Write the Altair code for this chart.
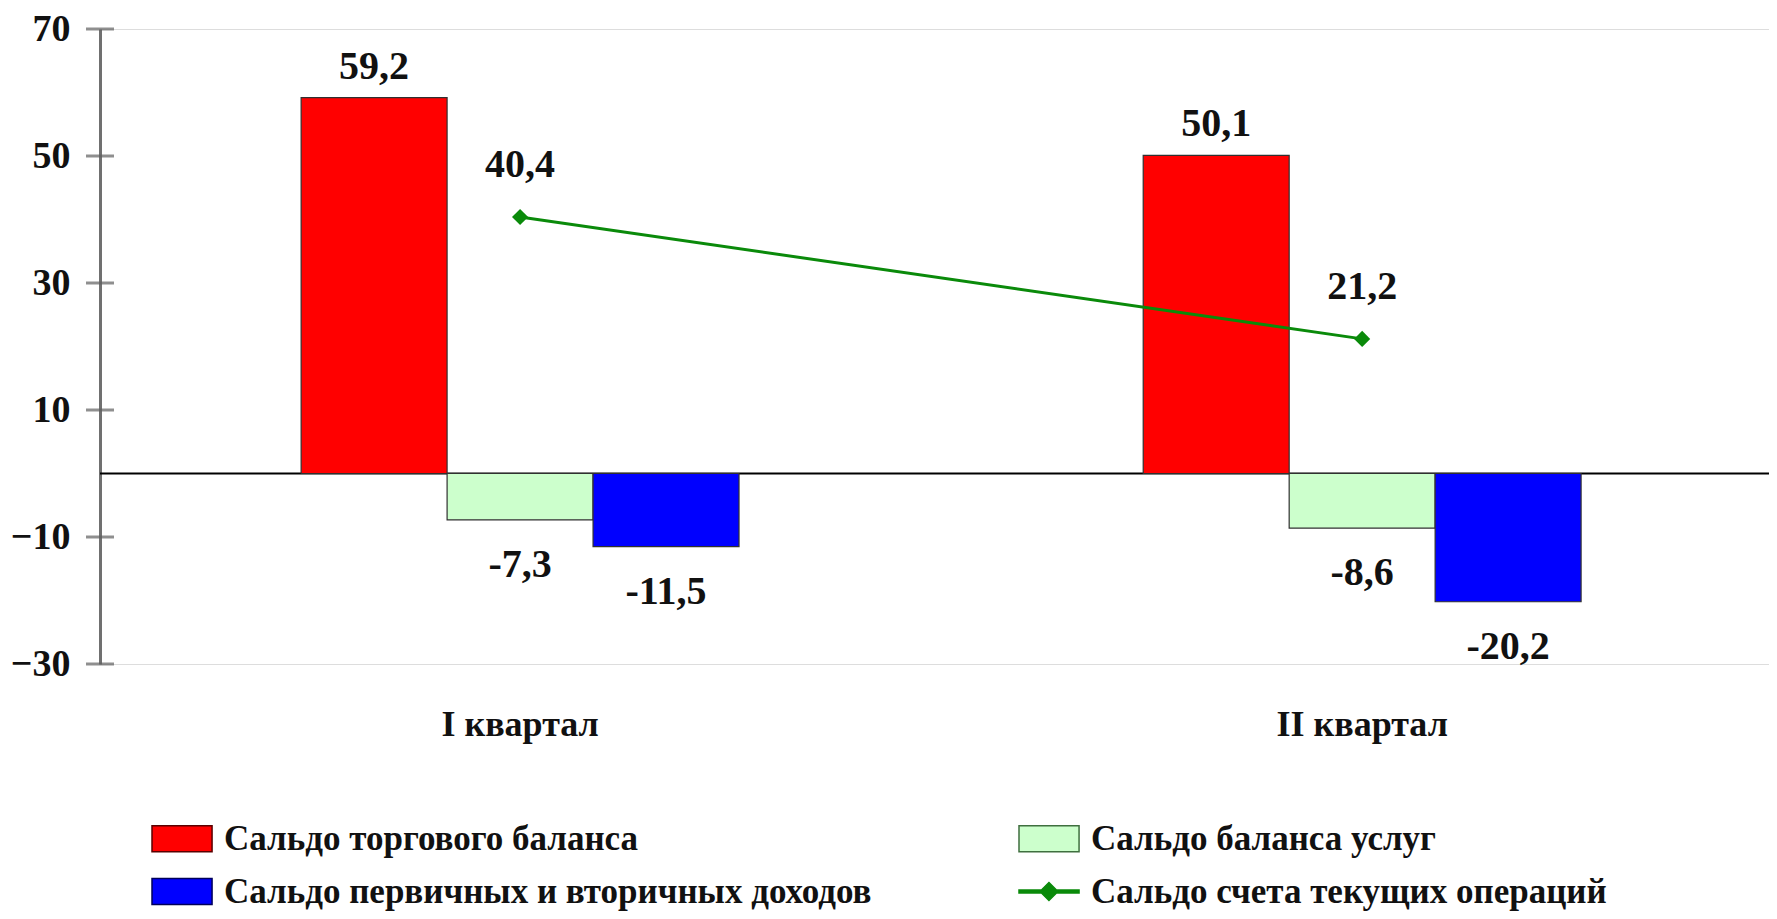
import altair as alt
import pandas as pd

FONT = "Liberation Serif"

quarters = ["I квартал", "II квартал"]
series_bars = ["Сальдо торгового баланса", "Сальдо баланса услуг",
               "Сальдо первичных и вторичных доходов"]
series_line = "Сальдо счета текущих операций"
trade = [59.2, 50.1]
services = [-7.3, -8.6]
income = [-11.5, -20.2]
current = [40.4, 21.2]
y_ticks = [-30, -10, 10, 30, 50, 70]

# legend order (grid is filled column by column)
legend_order = [series_bars[0], series_bars[2], series_bars[1], series_line]
fill_colors = ["#FF0000", "#0000FF", "#CCFFCC", "#0A8A0A"]
stroke_colors = ["#5a0000", "#00005a", "#3f6f3f", "#0A8A0A"]
rect_path = "M-1.25,-0.93H3.04V0.93H-1.25Z"
line_path = "M-1.25,-0.11H3.04V0.11H-1.25Z M0.89,-0.64L1.53,0L0.89,0.64L0.25,0Z"


def fmt(v):
    return f"{v:.1f}".replace(".", ",")


rows = []
for i, q in enumerate(quarters):
    for s, vals in zip(series_bars, [trade, services, income]):
        rows.append({"q": q, "series": s, "value": vals[i], "label": fmt(vals[i])})
bars_df = pd.DataFrame(rows)
line_df = pd.DataFrame({"q": quarters, "series": series_line, "value": current,
                        "label": [fmt(v) for v in current]})
ticks_df = pd.DataFrame({"value": y_ticks})
zero_df = pd.DataFrame({"value": [0]})
legend_df = pd.DataFrame({"series": legend_order})

legend = alt.Legend(title=None, orient="none", legendX=52, legendY=792, columns=2,
                    columnPadding=144, rowPadding=17, labelFont=FONT, labelFontSize=35,
                    labelFontWeight="bold", labelColor="#111111", labelOffset=37,
                    symbolSize=784, symbolStrokeWidth=1.5, labelLimit=1200, padding=0)

x_enc = alt.X("q:N", sort=quarters,
              scale=alt.Scale(domain=quarters, paddingInner=0.48, paddingOuter=0.231, align=0.517),
              axis=alt.Axis(title=None, domain=False, ticks=False, labelAngle=0,
                            labelFont=FONT, labelFontSize=36, labelFontWeight="bold",
                            labelColor="#111111", labelPadding=43))
y_enc = alt.Y("value:Q", scale=alt.Scale(domain=[-30, 70], nice=False, zero=False),
              axis=alt.Axis(values=y_ticks, title=None, grid=False, ticks=False,
                            domainColor="#707070", domainWidth=3, labelFont=FONT,
                            labelFontSize=38, labelFontWeight="bold", labelColor="#111111",
                            labelPadding=30))
xoff = alt.XOffset("series:N", scale=alt.Scale(domain=series_bars, paddingInner=0, paddingOuter=0))
fill_scale = alt.Scale(domain=legend_order, range=fill_colors)

bars = alt.Chart(bars_df).mark_bar(stroke="#303030", strokeWidth=1.2).encode(
    x=x_enc, xOffset=xoff, y=y_enc,
    fill=alt.Fill("series:N", scale=fill_scale, legend=legend),
)

txt_style = dict(font=FONT, fontSize=40, fontWeight="bold", color="#111111", baseline="middle")
pos_lbl = alt.Chart(bars_df).transform_filter("datum.value > 0").mark_text(dy=-31, **txt_style).encode(
    x=x_enc, xOffset=xoff, y=y_enc, text="label:N")
neg_lbl = alt.Chart(bars_df).transform_filter("datum.value < 0").mark_text(dy=45, **txt_style).encode(
    x=x_enc, xOffset=xoff, y=y_enc, text="label:N")

zero = alt.Chart(zero_df).mark_rule(color="#000000", strokeWidth=2).encode(y=y_enc)
ticks = alt.Chart(ticks_df).mark_tick(color="#606060", thickness=3, size=28, orient="horizontal").encode(
    y=y_enc, x=alt.value(0))

line = alt.Chart(line_df).mark_line(color="#0A8A0A", strokeWidth=3).encode(x=x_enc, y=y_enc)
pts = alt.Chart(line_df).mark_point(shape="diamond", filled=True, size=260, color="#0A8A0A", opacity=1).encode(
    x=x_enc, y=y_enc)
line_lbl = alt.Chart(line_df).mark_text(dy=-52, **txt_style).encode(x=x_enc, y=y_enc, text="label:N")

legend_layer = alt.Chart(legend_df).transform_filter("false").mark_point(filled=True).encode(
    fill=alt.Fill("series:N", scale=fill_scale, legend=legend),
    shape=alt.Shape("series:N", scale=alt.Scale(domain=legend_order,
                                                 range=[rect_path, rect_path, rect_path, line_path]),
                    legend=legend),
    stroke=alt.Stroke("series:N", scale=alt.Scale(domain=legend_order, range=stroke_colors), legend=legend),
)

chart = alt.layer(zero, bars, pos_lbl, neg_lbl, line, pts, line_lbl, ticks, legend_layer).properties(
    width=1669, height=635,
    autosize=alt.AutoSizeParams(type="none"),
    padding={"left": 92, "top": 21, "right": 0, "bottom": 247},
).configure_view(stroke=None).configure(background="white")

chart.save("out.html", embed_options={"renderer": "svg", "actions": False})
